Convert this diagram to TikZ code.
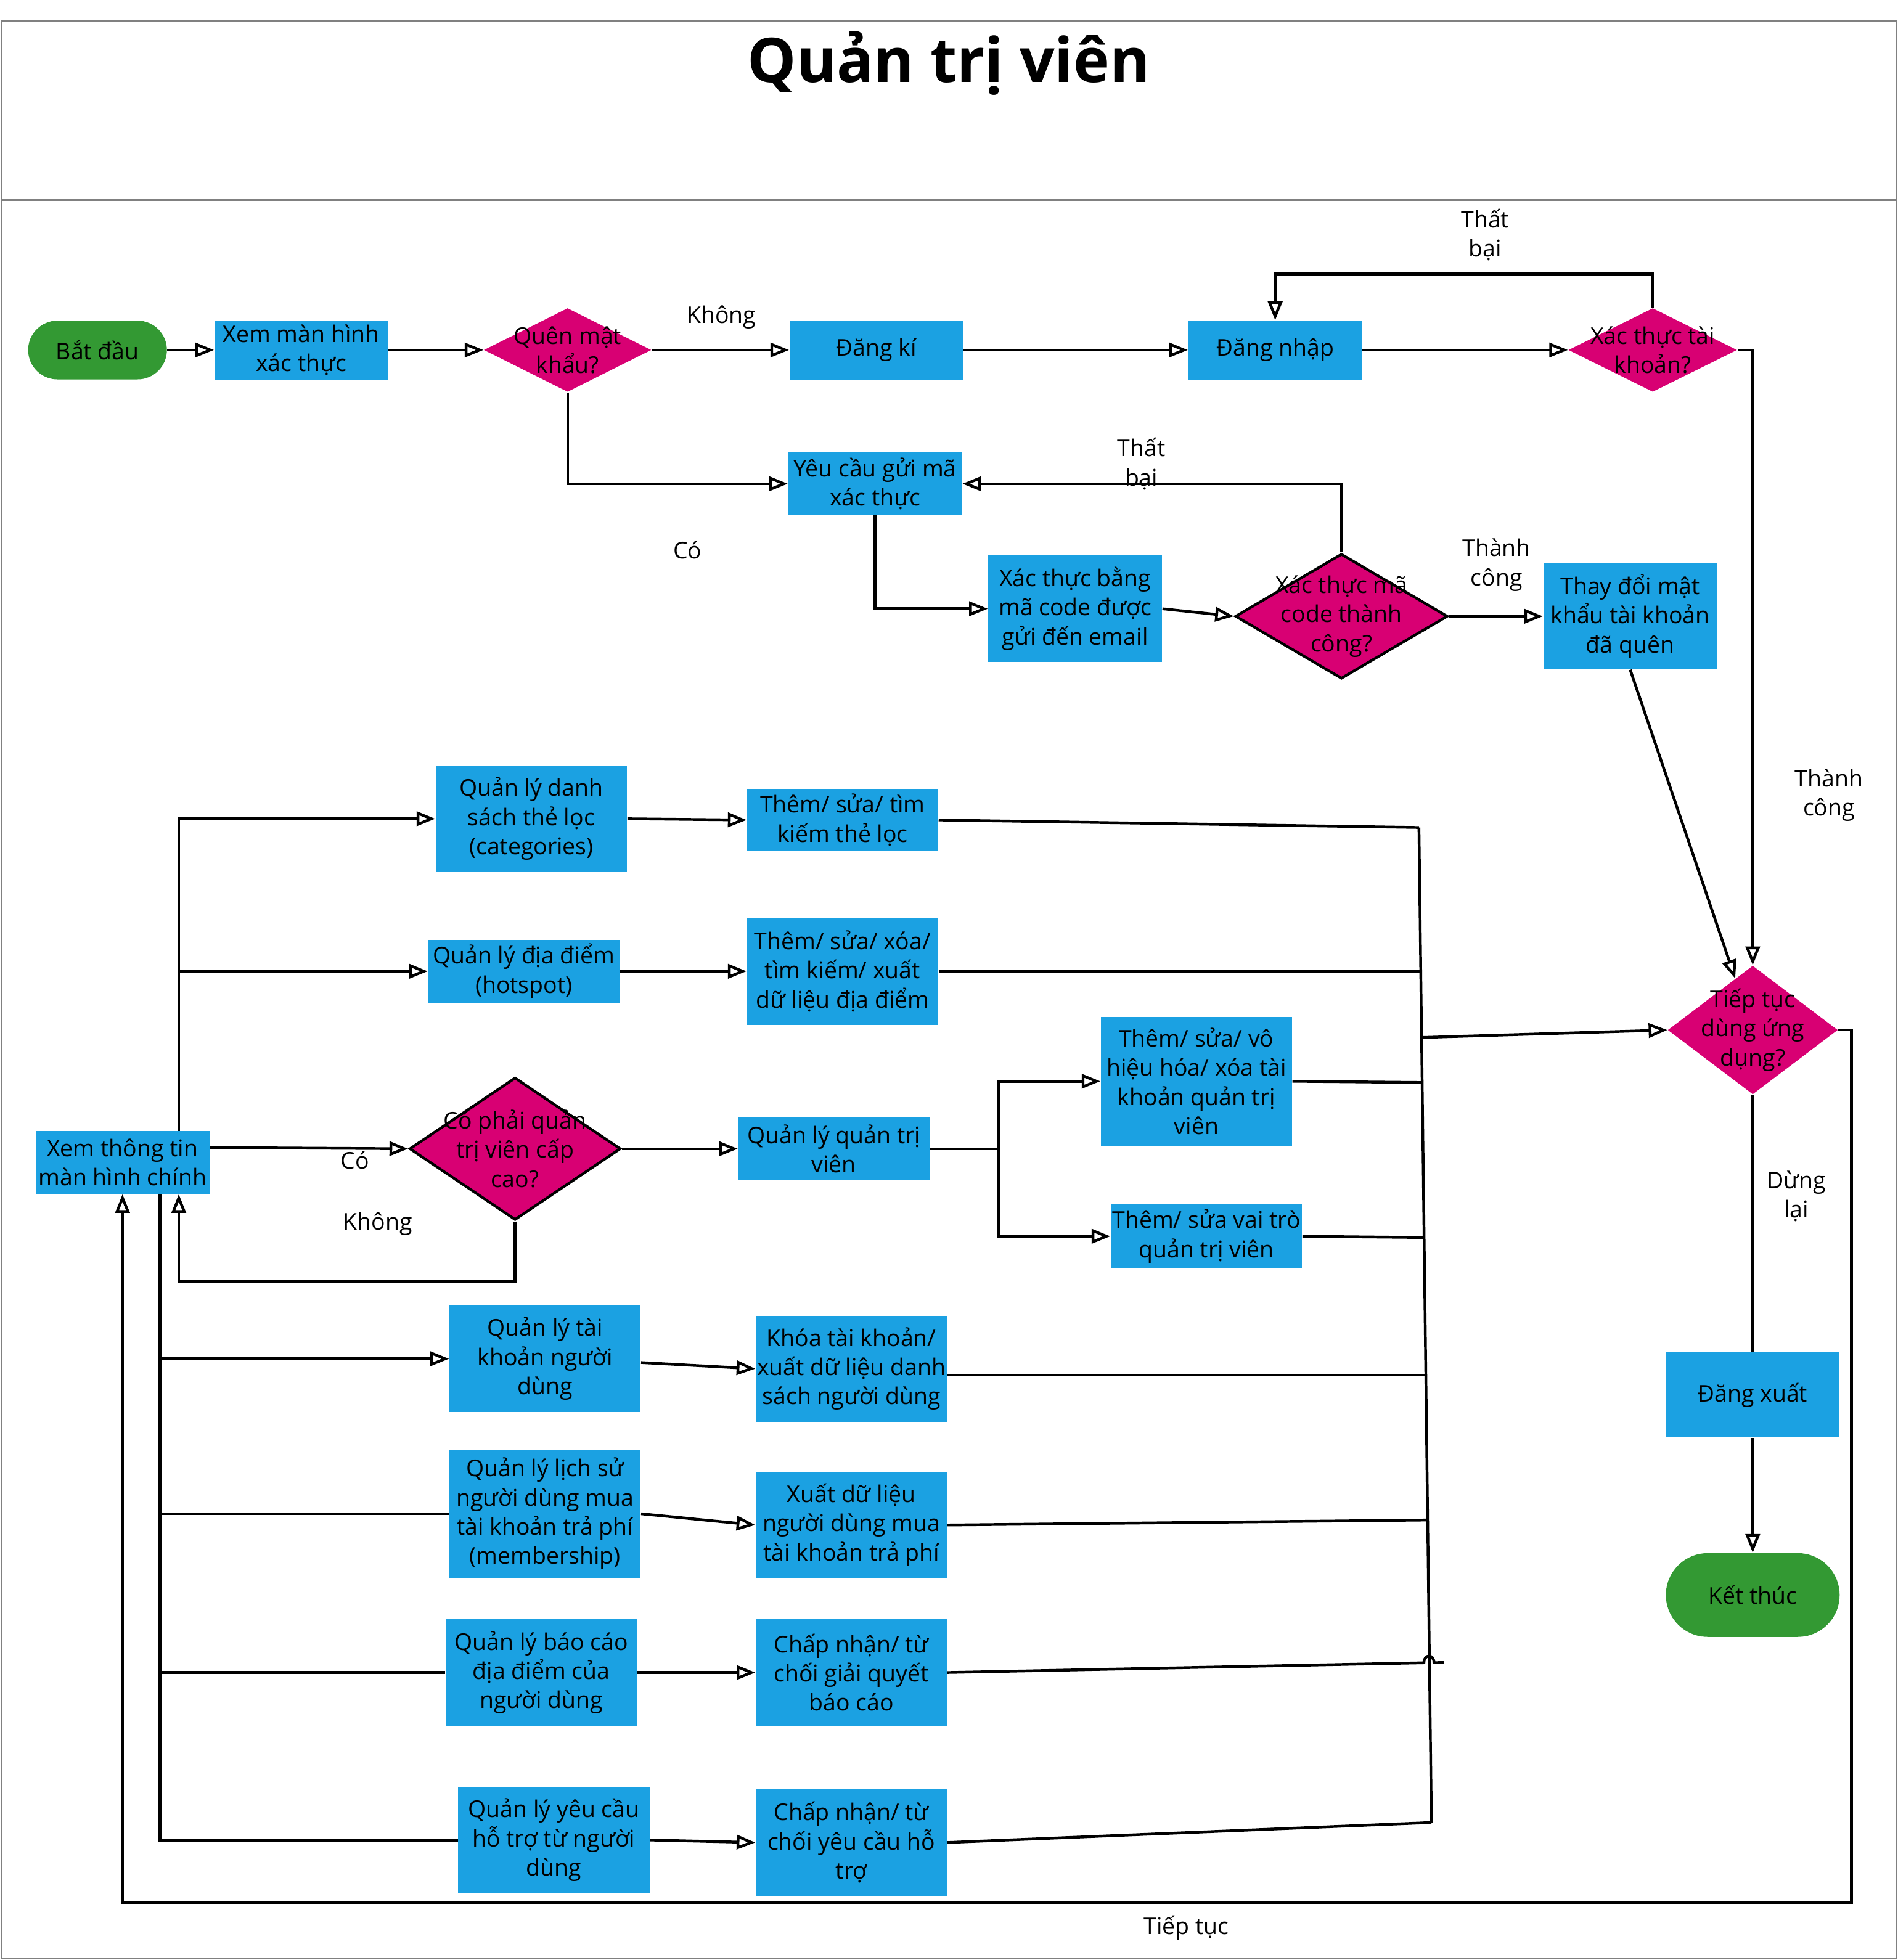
\documentclass[tikz,border=0pt]{standalone}
\usepackage{fontspec}
\setmainfont{Open Sans}
\usetikzlibrary{positioning,shapes.geometric,shapes.misc,arrows.meta,calc}

\definecolor{procblue}{HTML}{1BA1E2}
\definecolor{termgreen}{HTML}{339933}
\definecolor{decpink}{HTML}{D80073}
\definecolor{framegray}{HTML}{808080}

\begin{document}
\begin{tikzpicture}[
		x=0.02cm, y=-0.02cm,
		font=\fontsize{10.5}{13.3}\selectfont,
		procnode/.style={rectangle, fill=procblue, align=center, inner sep=0pt, minimum width=2.78cm, minimum height=0.94cm},
		widenode/.style={procnode, minimum width=3.06cm},
		termnode/.style={rounded rectangle, fill=termgreen, inner sep=0pt},
		decnode/.style={diamond, fill=decpink, inner sep=0pt},
		outlined/.style={draw=black, line width=1.2pt},
		dectext/.style={align=center},
		lbl/.style={align=center},
		link/.style={line width=1.25pt},
		arr/.style={line width=1.25pt, -{Triangle[open, length=8.5pt, width=6.5pt]}},
	]
		\useasboundingbox (0,0) rectangle (1518,1568);

		% frame and title
		\draw[framegray, line width=0.6pt] (1,17) rectangle (1517,1567);
		\draw[framegray, line width=0.6pt] (1,160) -- (1517,160);
		\node[font=\bfseries\fontsize{28}{33}\selectfont, anchor=base] (title) at (759,66) {Quản trị viên};

		% nodes: login part
		\node[termnode, minimum width=2.22cm, minimum height=0.94cm] (start) at (78,280) {Bắt đầu};
		\node[procnode] (authview) at (241,280) {Xem màn hình\\xác thực};
		\node[decnode, minimum width=2.68cm, minimum height=1.34cm, label={[dectext]center:Quên mật\\khẩu?}] (forgot) at (454,280) {};
		\node[procnode] (signup) at (701,280) {Đăng kí};
		\node[procnode] (login) at (1020,280) {Đăng nhập};
		\node[decnode, minimum width=2.7cm, minimum height=1.34cm, label={[dectext]center:Xác thực tài\\khoản?}] (accchk) at (1322,280) {};
		\node[procnode, minimum height=1cm] (reqcode) at (700,387) {Yêu cầu gửi mã\\xác thực};
		\node[procnode, minimum height=1.7cm] (emailcode) at (860,487) {Xác thực bằng\\mã code được\\gửi đến email};
		\node[decnode, outlined, minimum width=3.4cm, minimum height=2cm, label={[dectext]center:Xác thực mã\\code thành\\công?}] (codechk) at (1073,493) {};
		\node[procnode, minimum height=1.7cm] (resetpw) at (1304,493) {Thay đổi mật\\khẩu tài khoản\\đã quên};

		% nodes: end part
		\node[decnode, minimum width=2.72cm, minimum height=2.06cm, label={[dectext]center:Tiếp tục\\dùng ứng\\dụng?}] (cont) at (1402,824) {};
		\node[procnode, minimum height=1.36cm] (logout) at (1402,1116) {Đăng xuất};
		\node[termnode, minimum width=2.78cm, minimum height=1.34cm] (finish) at (1402,1276) {Kết thúc};

		% nodes: main screen
		\node[procnode, minimum height=1cm] (home) at (98,930) {Xem thông tin\\màn hình chính};
		\node[decnode, outlined, minimum width=3.38cm, minimum height=2.28cm, label={[dectext]center:Có phải quản\\trị viên cấp\\cao?}] (superchk) at (412,919) {};
		\node[widenode, minimum height=1cm] (adminmgr) at (667,919) {Quản lý quản trị\\viên};
		\node[widenode, minimum height=2.06cm] (admacc) at (957,865) {Thêm/ sửa/ vô\\hiệu hóa/ xóa tài\\khoản quản trị\\viên};
		\node[widenode, minimum height=1.02cm] (admrole) at (965,989) {Thêm/ sửa vai trò\\quản trị viên};
		\node[widenode, minimum height=1.7cm] (catmgr) at (425,655) {Quản lý danh\\sách thẻ lọc\\(categories)};
		\node[widenode, minimum height=1cm] (catedit) at (674,656) {Thêm/ sửa/ tìm\\kiếm thẻ lọc};
		\node[widenode, minimum height=1cm] (spotmgr) at (419,777) {Quản lý địa điểm\\(hotspot)};
		\node[widenode, minimum height=1.72cm] (spotedit) at (674,777) {Thêm/ sửa/ xóa/\\tìm kiếm/ xuất\\dữ liệu địa điểm};
		\node[widenode, minimum height=1.7cm] (usermgr) at (436,1087) {Quản lý tài\\khoản người\\dùng};
		\node[widenode, minimum height=1.7cm] (useredit) at (681,1095) {Khóa tài khoản/\\xuất dữ liệu danh\\sách người dùng};
		\node[widenode, minimum height=2.06cm] (membmgr) at (436,1211) {Quản lý lịch sử\\người dùng mua\\tài khoản trả phí\\(membership)};
		\node[widenode, minimum height=1.7cm] (membexp) at (681,1220) {Xuất dữ liệu\\người dùng mua\\tài khoản trả phí};
		\node[widenode, minimum height=1.7cm] (repmgr) at (433,1338) {Quản lý báo cáo\\địa điểm của\\người dùng};
		\node[widenode, minimum height=1.7cm] (repedit) at (681,1338) {Chấp nhận/ từ\\chối giải quyết\\báo cáo};
		\node[widenode, minimum height=1.7cm] (supmgr) at (443,1472) {Quản lý yêu cầu\\hỗ trợ từ người\\dùng};
		\node[widenode, minimum height=1.7cm] (supedit) at (681,1474) {Chấp nhận/ từ\\chối yêu cầu hỗ\\trợ};

		% labels
		\node[lbl] (lnosign) at (577,254) {Không};
		\node[lbl] (lyesforgot) at (550,440) {Có};
		\node[lbl] (lfaillogin) at (1188,188) {Thất\\bại};
		\node[lbl] (lfailcode) at (913,371) {Thất\\bại};
		\node[lbl] (lokcode) at (1197,452) {Thành\\công};
		\node[lbl] (loklogin) at (1463,636) {Thành\\công};
		\node[lbl] (lstop) at (1437,957) {Dừng\\lại};
		\node[lbl] (lyessuper) at (284,928) {Có};
		\node[lbl] (lnosuper) at (302,979) {Không};
		\node[lbl] (lagain) at (949,1542) {Tiếp tục};

		% bus points
		\coordinate (bustop) at (1135,662);
		\coordinate (busspot) at (1136,777);
		\coordinate (busout) at (1137,830);
		\coordinate (busacc) at (1138,866);
		\coordinate (busrole) at (1139,990);
		\coordinate (bususer) at (1140,1100);
		\coordinate (busmemb) at (1142,1216);
		\coordinate (busrep) at (1155,1330);
		\coordinate (busbot) at (1145,1458);
		\coordinate (loopcorner) at (1481,1522);

		% lines: login part
		\draw[arr] (start.east) -- (authview.west);
		\draw[arr] (authview.east) -- (forgot.west);
		\draw[arr] (forgot.east) -- (signup.west);
		\draw[arr] (signup.east) -- (login.west);
		\draw[arr] (login.east) -- (accchk.west);
		\draw[arr] (accchk.north) -- ++(0,-27) -| (login.north);
		\draw[arr] (accchk.east) -| (cont.north);
		\draw[arr] (forgot.south) |- (reqcode.west);
		\draw[arr] (reqcode.south) |- (emailcode.west);
		\draw[arr] (emailcode.east) -- (codechk.west);
		\draw[arr] (codechk.north) |- (reqcode.east);
		\draw[arr] (codechk.east) -- (resetpw.west);
		\draw[arr] (resetpw.south) -- (cont);

		% lines: end part
		\draw[link] (cont.south) -- (logout.north);
		\draw[arr] (logout.south) -- (finish.north);
		\draw[arr] (cont.east) -| (loopcorner) -| (home.south);

		% lines: main screen
		\draw[arr] ($(home.east)+(0,-12)$) -- (superchk.west);
		\draw[arr] (superchk.south) |- ($(home.south)+(45,70)$) -- ($(home.south)+(45,0)$);
		\draw[arr] (superchk.east) -- (adminmgr.west);
		\draw[arr] (adminmgr.east) -- ++(55,0) |- (admacc.west);
		\draw[arr] (adminmgr.east) -- ++(55,0) |- (admrole.west);
		\draw[arr] ($(home.north)+(45,0)$) |- (catmgr.west);
		\draw[arr] ($(home.north)+(45,0)$) |- (spotmgr.west);
		\draw[arr] ($(home.south)+(30,0)$) |- (usermgr.west);
		\draw[link] ($(home.south)+(30,0)$) |- (membmgr.west);
		\draw[link] ($(home.south)+(30,0)$) |- (repmgr.west);
		\draw[link] ($(home.south)+(30,0)$) |- (supmgr.west);
		\draw[arr] (catmgr.east) -- (catedit.west);
		\draw[arr] (spotmgr.east) -- (spotedit.west);
		\draw[arr] ($(usermgr.east)+(0,3)$) -- (useredit.west);
		\draw[arr] (membmgr.east) -- (membexp.west);
		\draw[arr] (repmgr.east) -- (repedit.west);
		\draw[arr] (supmgr.east) -- (supedit.west);

		% lines: into the bus
		\draw[link] (bustop) -- (busbot);
		\draw[link] (catedit.east) -- (bustop);
		\draw[link] (spotedit.east) -- (busspot);
		\draw[link] (admacc.east) -- (busacc);
		\draw[link] (admrole.east) -- (busrole);
		\draw[link] ($(useredit.east)+(0,5)$) -- (bususer);
		\draw[link] (membexp.east) -- (busmemb);
		\draw[link] (repedit.east) -- (1139,1330.2) .. controls (1139,1323) and (1147,1323) .. (1147,1330.1) -- (busrep);
		\draw[link] (supedit.east) -- (busbot);
		\draw[arr] (busout) -- (cont.west);
	\end{tikzpicture}
\end{document}
